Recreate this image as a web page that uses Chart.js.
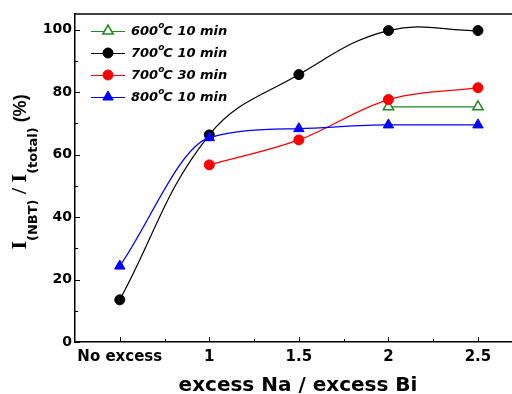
<!DOCTYPE html>
<html>
<head>
<meta charset="utf-8">
<script src="https://cdn.jsdelivr.net/npm/chart.js@4.4.0/dist/chart.umd.min.js"></script>
<style>
  html, body { margin: 0; padding: 0; background: #fff; }
  canvas { display: block; }
</style>
</head>
<body>
<canvas id="chart" width="512" height="394"></canvas>
<script>
// category labels along x (index positions 0..4)
const categories = ['No excess', '1', '1.5', '2', '2.5'];

// series values, null = no point
const s600_10 = [null, null, null, 75.3, 75.3];
const s700_10 = [13.5, 66.3, 85.6, 99.7, 99.7];
const s700_30 = [null, 56.7, 64.7, 77.6, 81.4];
const s800_10 = [24.3, 65.4, 68.3, 69.5, 69.5];

// legend pieces
const legendTemps = ['600', '700', '700', '800'];
const legendTimes = ['10 min', '10 min', '30 min', '10 min'];

const yTickLabels = [0, 20, 40, 60, 80, 100];
const yTickValues = [0, 10, 20, 30, 40, 50, 60, 70, 80, 90, 100];
const xTickValues = [0, 0.5, 1, 1.5, 2, 2.5, 3, 3.5, 4];
const X_MIN = -0.5, X_MAX = 4.38;

function toPoints(arr) {
    const pts = [];
    arr.forEach((v, i) => { if (v !== null) pts.push({ x: i, y: v }); });
    return pts;
}

const GREEN = '#1f8a1f';

// frame, tick marks, titles, legend
const decorPlugin = {
    id: 'decor',
    beforeDatasetsDraw(chart) {
        const ctx = chart.ctx;
        const area = chart.chartArea;
        const xs = chart.scales.x;
        const ys = chart.scales.y;
        ctx.save();
        ctx.strokeStyle = '#000';
        ctx.lineWidth = 1.5;
        // top frame line
        ctx.beginPath();
        ctx.moveTo(area.left, area.top);
        ctx.lineTo(area.right, area.top);
        ctx.stroke();
        ctx.lineWidth = 1;
        // y ticks, pointing inward
        yTickValues.forEach(v => {
            const len = v % 20 === 0 ? 5 : 3;
            const y = Math.round(ys.getPixelForValue(v)) + 0.5;
            ctx.beginPath();
            ctx.moveTo(area.left, y);
            ctx.lineTo(area.left + len, y);
            ctx.stroke();
        });
        // x ticks, pointing inward
        xTickValues.forEach(v => {
            const len = Number.isInteger(v) ? 5 : 3;
            const x = Math.round(xs.getPixelForValue(v)) + 0.5;
            ctx.beginPath();
            ctx.moveTo(x, area.bottom);
            ctx.lineTo(x, area.bottom - len);
            ctx.stroke();
        });
        ctx.restore();
    },
    afterDraw(chart) {
        const ctx = chart.ctx;
        ctx.save();
        ctx.fillStyle = '#000';

        // x title
        ctx.font = 'bold 20px "DejaVu Sans"';
        ctx.textAlign = 'center';
        ctx.textBaseline = 'alphabetic';
        ctx.fillText('excess Na / excess Bi', 298, 391);

        // y title with subscripts, rotated
        const parts = [
            { t: 'I', f: 'bold 22px "Liberation Serif"', dy: 0 },
            { t: '(NBT)', f: 'bold 13px "DejaVu Sans"', dy: 11 },
            { t: ' / ', f: 'bold 22px "Liberation Serif"', dy: 0 },
            { t: 'I', f: 'bold 22px "Liberation Serif"', dy: 0 },
            { t: '(total)', f: 'bold 13px "DejaVu Sans"', dy: 11 },
            { t: ' (%)', f: 'bold 18px "Liberation Sans"', dy: 0 }
        ];
        let total = 0;
        parts.forEach(p => { ctx.font = p.f; p.w = ctx.measureText(p.t).width; total += p.w; });
        ctx.translate(26, 172);
        ctx.rotate(-Math.PI / 2);
        ctx.textAlign = 'left';
        let px = -total / 2;
        parts.forEach(p => {
            ctx.font = p.f;
            ctx.fillText(p.t, px, p.dy);
            px += p.w;
        });
        ctx.setTransform(1, 0, 0, 1, 0, 0);

        // legend
        const rowsY = [31, 53, 75, 97];
        chart.data.datasets.forEach((ds, i) => {
            const y = rowsY[i];
            ctx.strokeStyle = ds.borderColor;
            ctx.lineWidth = 1.2;
            ctx.beginPath();
            ctx.moveTo(91, y + 0.5);
            ctx.lineTo(125, y + 0.5);
            ctx.stroke();
            ctx.fillStyle = ds.pointBackgroundColor;
            ctx.strokeStyle = ds.borderColor;
            ctx.lineWidth = ds.pointBorderWidth;
            Chart.helpers.drawPoint(ctx, {
                pointStyle: ds.pointStyle,
                radius: ds.pointRadius,
                borderWidth: ds.pointBorderWidth,
                rotation: 0
            }, 108, y);
            ctx.fillStyle = '#000';
            ctx.textBaseline = 'middle';
            let tx = 131;
            ctx.font = 'italic bold 13px "DejaVu Sans"';
            ctx.fillText(legendTemps[i], tx, y + 1);
            tx += ctx.measureText(legendTemps[i]).width;
            ctx.font = 'italic bold 9px "DejaVu Sans"';
            ctx.fillText('o', tx, y - 5);
            tx += ctx.measureText('o').width - 1;
            ctx.font = 'italic bold 13px "DejaVu Sans"';
            ctx.fillText('C ' + legendTimes[i], tx, y + 1);
        });
        ctx.restore();
    }
};

const ctx = document.getElementById('chart').getContext('2d');
const chart = new Chart(ctx, {
    type: 'line',
    data: {
        datasets: [
            {
                label: '600 C 10 min',
                data: toPoints(s600_10),
                borderColor: GREEN,
                backgroundColor: '#fff',
                pointBackgroundColor: '#fff',
                pointBorderColor: GREEN,
                pointStyle: 'triangle',
                pointRadius: 6,
                pointBorderWidth: 1.5,
                borderWidth: 1.3,
                tension: 0,
                order: 4
            },
            {
                label: '700 C 10 min',
                data: toPoints(s700_10),
                borderColor: '#000',
                backgroundColor: '#000',
                pointBackgroundColor: '#000',
                pointBorderColor: '#000',
                pointStyle: 'circle',
                pointRadius: 5,
                pointBorderWidth: 1,
                borderWidth: 1.2,
                tension: 0.4,
                order: 3
            },
            {
                label: '700 C 30 min',
                data: toPoints(s700_30),
                borderColor: '#ff0000',
                backgroundColor: '#ff0000',
                pointBackgroundColor: '#ff0000',
                pointBorderColor: '#ff0000',
                pointStyle: 'circle',
                pointRadius: 5,
                pointBorderWidth: 1,
                borderWidth: 1.3,
                cubicInterpolationMode: 'monotone',
                order: 2
            },
            {
                label: '800 C 10 min',
                data: toPoints(s800_10),
                borderColor: '#0000ff',
                backgroundColor: '#0000ff',
                pointBackgroundColor: '#0000ff',
                pointBorderColor: '#0000ff',
                pointStyle: 'triangle',
                pointRadius: 6,
                pointBorderWidth: 1,
                borderWidth: 1.3,
                cubicInterpolationMode: 'monotone',
                order: 1
            }
        ]
    },
    options: {
        responsive: false,
        animation: false,
        layout: { autoPadding: false, padding: { top: 14, right: 0, left: 0, bottom: 0 } },
        plugins: {
            legend: { display: false },
            tooltip: { enabled: false }
        },
        scales: {
            x: {
                type: 'linear',
                min: X_MIN,
                max: X_MAX,
                afterFit: s => { s.height = 52; s.paddingRight = 0; s.paddingLeft = 0; },
                // label ticks plus empty ticks at both ends so no edge padding is added
                afterBuildTicks: s => { s.ticks = [X_MIN, ...xTickValues, X_MAX].map(v => ({ value: v })); },
                border: { display: true, color: '#000', width: 1.5 },
                grid: { drawOnChartArea: false, drawTicks: false },
                ticks: {
                    padding: 6,
                    autoSkip: false,
                    maxRotation: 0,
                    color: '#000',
                    font: { family: 'DejaVu Sans', size: 15, weight: 'bold' },
                    callback: v => Number.isInteger(v) && v >= 0 && v < categories.length ? categories[v] : ''
                }
            },
            y: {
                min: 0,
                max: 105,
                afterFit: s => { s.width = 75; },
                afterBuildTicks: s => { s.ticks = yTickValues.map(v => ({ value: v })); },
                border: { display: true, color: '#000', width: 1.5 },
                grid: { drawOnChartArea: false, drawTicks: false },
                ticks: {
                    padding: 3,
                    autoSkip: false,
                    color: '#000',
                    font: { family: 'DejaVu Sans', size: 14, weight: 'bold' },
                    callback: v => yTickLabels.includes(v) ? String(v) : ''
                }
            }
        }
    },
    plugins: [decorPlugin]
});
</script>
</body>
</html>
